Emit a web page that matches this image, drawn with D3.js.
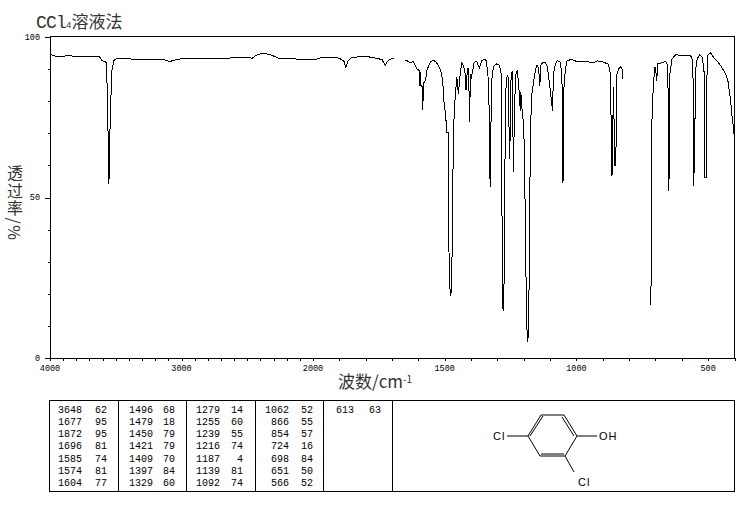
<!DOCTYPE html>
<html>
<head>
<meta charset="utf-8">
<script src="https://d3js.org/d3.v7.min.js"></script>
<style>
  html, body { margin: 0; padding: 0; background: #fff; }
  svg { display: block; }
  .num { font-family: "Liberation Mono", monospace; font-size: 8.5px; fill: #000; }
  .cell { font-family: "Liberation Mono", monospace; font-size: 10px; fill: #000; }
  .cjk { font-family: "Noto Sans CJK SC", sans-serif; fill: #333; }
</style>
</head>
<body>
<div id="chart"></div>
<script>
// Spectrum, three pieces because the trace has two gaps
var wn_part1 = [4000,3977,3954,3924,3894,3848,3825,3787,3742,3696,3635,3620,3605,3574,3567,3559,3552,3544,3536,3529,3514,3498,3392,3278,3126,3088,3050,2974,2898,2784,2670,2647,2617,2480,2465,2434,2381,2328,2275,2252,2138,2024,1992,1973,1916,1897,1882,1875,1867,1852,1802,1776,1753,1738,1726,1715,1700,1692]
var t_part1 = [94.4,94.1,93.8,93.8,93.9,94.1,93.8,93.9,93.9,93.8,93.9,93.5,92.5,92.0,86.6,70.7,53.9,70.7,81.9,89.4,92.5,93.0,93.0,92.9,92.7,92.2,92.7,93.3,93.1,93.3,93.3,93.1,93.5,93.5,93.1,94.1,94.8,94.4,93.5,93.0,93.0,92.8,92.8,93.3,93.5,93.1,92.2,90.3,92.5,93.5,93.8,93.5,93.1,92.8,91.0,92.5,93.1,93.1]

var wn_part2 = [1652,1639,1631,1620,1609,1604,1597,1596,1591,1590,1585,1583,1581,1573,1568,1555,1545,1536,1524,1515,1507,1505,1501,1496,1492,1487,1483,1478,1474,1471,1467,1460,1454,1448,1441,1435,1429,1421,1419,1414,1409,1406,1402,1400,1395,1388,1378,1369,1359,1350,1343,1336,1332,1329,1326,1325,1320,1312,1302,1292,1286,1283,1282,1277,1273,1272,1269,1267,1262,1259,1254,1251,1248,1244,1239,1235,1229,1224,1218,1213,1211,1206,1201,1197,1193,1188,1185,1182,1178,1175,1169,1163,1156,1150,1144,1139,1135,1127,1118,1110,1099,1091,1087,1080,1072,1061,1055,1051,1049,1042,1036,1021,998,954,935,920,897,878,871,869,865,861,859,855,850,849,846,840,832,827,825]
var t_part2 = [92.7,92.3,91.8,92.2,90.6,89.8,89.4,84.7,88.9,84.7,84.4,77.2,85.4,86.3,89.4,92.0,92.5,92.3,91.0,89.4,85.8,81.1,78.5,74.9,70.2,70.2,24.7,19.1,21.5,38.7,70.7,81.6,87.3,82.1,88.5,91.8,91.0,87.8,83.2,89.9,89.9,73.3,88.4,86.9,88.9,92.0,92.2,90.2,92.5,93.0,92.5,88.4,79.5,56.7,53.0,70.7,88.5,91.0,91.5,91.0,88.4,70.7,15.9,14.6,30.5,58.3,70.7,86.3,87.8,87.3,61.9,70.7,88.4,88.9,57.7,79.0,88.9,89.4,83.2,76.9,82.6,76.9,72.9,62.9,32.7,9.0,4.7,7.8,34.6,70.7,82.1,85.8,89.4,91.0,90.4,84.7,91.0,92.0,92.0,90.4,83.2,76.9,88.4,91.5,92.5,92.0,87.3,54.5,82.2,89.9,92.3,92.9,92.2,92.1,91.8,92.4,92.0,91.3,88.4,76.9,56.7,76.0,84.2,59.8,59.8,80.1,88.4,89.9,90.6,89.9,86.8]

var wn_part3 = [717,716,709,703,700,695,692,675,662,656,652,650,647,645,637,624,599,567,561,557,555,551,548,542,532,523,517,513,512,507,505,502,491,479,466,453,441,431,424,415,409,405,401]
var t_part3 = [16.2,68.2,83.2,90.4,90.4,86.3,91.5,91.8,92.2,91.5,83.2,52.0,59.8,88.4,93.0,94.3,94.1,94.1,93.0,86.3,53.4,65.5,89.4,93.0,94.4,93.5,90.4,86.3,56.1,56.1,86.3,94.1,94.9,93.5,92.3,91.0,89.4,87.8,85.8,80.1,74.9,72.3,68.8]

// Axis ticks
var x_labels = [4000, 3000, 2000, 1500, 1000, 500]
var y_labels = [100, 50, 0]

// Peak table, one list per column
var table_col1 = [["3648",62],["1677",95],["1872",95],["1696",81],["1585",74],["1574",81],["1604",77]]
var table_col2 = [["1496",68],["1479",18],["1450",79],["1421",79],["1409",70],["1397",84],["1329",60]]
var table_col3 = [["1279",14],["1255",60],["1239",55],["1216",74],["1187",4],["1139",81],["1092",74]]
var table_col4 = [["1062",52],["866",55],["854",57],["724",16],["698",84],["651",50],["566",52]]
var table_col5 = [["613",63]]

var svg = d3.select("#chart").append("svg")
    .attr("width", 737)
    .attr("height", 510)

// the wavenumber axis changes scale at 2000
var x_scale = d3.scaleLinear()
    .domain([4000, 2000, 400])
    .range([50, 313, 734.5])

var y_scale = d3.scaleLinear()
    .domain([0, 100])
    .range([357.5, 36.5])

var plot_line = d3.line()
    .x(function(d) { return x_scale(d[0]) })
    .y(function(d) { return y_scale(d[1]) })

// frame: top and right sides, left and bottom come from the axes
svg.append("path")
    .attr("d", "M50,36.5H734.5V357.5")
    .attr("fill", "none")
    .attr("stroke", "#000")
    .attr("shape-rendering", "crispEdges")

// Y axis
var y_axis = svg.append("g").attr("transform", "translate(50,0)")
    .call(d3.axisLeft(y_scale).tickValues(d3.range(0, 101, 10))
        .tickSize(2).tickFormat(""))
y_axis.selectAll("line").attr("y1", 0.5).attr("y2", 0.5).attr("shape-rendering", "crispEdges")
y_axis.selectAll(".tick").filter(function(d) { return y_labels.includes(d) })
    .select("line").attr("x2", -5)
y_axis.select(".domain").attr("shape-rendering", "crispEdges")

y_labels.forEach(function(v) {
    svg.append("text")
        .attr("class", "num")
        .attr("x", 40)
        .attr("y", y_scale(v) + 3)
        .attr("text-anchor", "end")
        .text(v)
})

// X axis, a tick every 100
var x_axis = svg.append("g").attr("transform", "translate(0,357.5)")
    .call(d3.axisBottom(x_scale).tickValues(d3.range(400, 4001, 100))
        .tickSize(3).tickFormat(""))
x_axis.selectAll("line").attr("shape-rendering", "crispEdges")
x_axis.select(".domain").attr("shape-rendering", "crispEdges")

x_labels.forEach(function(v) {
    svg.append("text")
        .attr("class", "num")
        .attr("x", x_scale(v))
        .attr("y", 371)
        .attr("text-anchor", "middle")
        .text(v)
})

// Spectrum
var parts = [[wn_part1, t_part1], [wn_part2, t_part2], [wn_part3, t_part3]]
parts.forEach(function(p) {
    svg.append("path")
        .datum(d3.zip(p[0], p[1]))
        .attr("d", plot_line)
        .attr("fill", "none")
        .attr("stroke", "#000")
        .attr("stroke-width", 1)
        .attr("shape-rendering", "crispEdges")
})

// Title
var title = svg.append("text").attr("x", 36).attr("y", 28).attr("fill", "#333")
title.append("tspan")
    .style("font-family", "'Liberation Mono', monospace").style("font-size", "18px")
    .style("letter-spacing", "-0.8px")
    .text("CCl")
title.append("tspan")
    .style("font-family", "'Liberation Mono', monospace").style("font-size", "9px")
    .text("4")
title.append("tspan")
    .attr("class", "cjk").style("font-size", "17px")
    .text("溶液法")

// Axis titles, y one runs top to bottom
svg.append("text")
    .attr("class", "cjk")
    .attr("x", 15)
    .attr("y", 165)
    .style("writing-mode", "vertical-rl")
    .style("font-size", "16px")
    .style("letter-spacing", "1.5px")
    .text("透过率/%")

var x_title = svg.append("text").attr("class", "cjk").attr("x", 338).attr("y", 388)
    .style("font-size", "17px")
x_title.append("tspan").text("波数/cm")
x_title.append("tspan").attr("dy", -5).style("font-size", "10px").text("-1")

// Table box
var table_lines = [118.5, 186.5, 255.5, 323.5, 392.5]
svg.append("rect")
    .attr("x", 49.5).attr("y", 400.5)
    .attr("width", 685).attr("height", 91)
    .attr("fill", "none").attr("stroke", "#000")
    .attr("shape-rendering", "crispEdges")
table_lines.forEach(function(x) {
    svg.append("line")
        .attr("x1", x).attr("x2", x).attr("y1", 400.5).attr("y2", 491.5)
        .attr("stroke", "#000").attr("shape-rendering", "crispEdges")
})

var row_scale = d3.scaleLinear().domain([0, 6]).range([412.5, 486])

function draw_table_col(col, x_wn, x_t) {
    col.forEach(function(r, i) {
        svg.append("text").attr("class", "cell").attr("text-anchor", "end")
            .attr("x", x_wn).attr("y", row_scale(i)).text(r[0])
        svg.append("text").attr("class", "cell").attr("text-anchor", "end")
            .attr("x", x_t).attr("y", row_scale(i)).text(r[1])
    })
}
draw_table_col(table_col1, 82, 107)
draw_table_col(table_col2, 153, 175)
draw_table_col(table_col3, 220, 243)
draw_table_col(table_col4, 289, 313)
draw_table_col(table_col5, 354, 381)

// Molecule
var bonds = [
    [541,415,564,415], [564,415,577,436], [577,436,565,456], [565,456,540,456],
    [540,456,528,436], [528,436,541,415],
    [530,436,543,416], [562,417,574,436], [541,454,564,454],
    [507,436,528,436], [577,436,597,436], [565,456,574,472]
]
svg.selectAll(".bond").data(bonds).enter().append("line")
    .attr("class", "bond")
    .attr("x1", function(d) { return d[0] })
    .attr("y1", function(d) { return d[1] })
    .attr("x2", function(d) { return d[2] })
    .attr("y2", function(d) { return d[3] })
    .attr("stroke", "#000")

var atom_labels = [["Cl", 493, 440], ["OH", 599, 440], ["Cl", 578, 486]]
atom_labels.forEach(function(a) {
    svg.append("text")
        .attr("x", a[1]).attr("y", a[2])
        .style("font-family", "'Liberation Sans', sans-serif")
        .style("font-size", "11px")
        .style("letter-spacing", "1px")
        .text(a[0])
})
</script>
</body>
</html>
